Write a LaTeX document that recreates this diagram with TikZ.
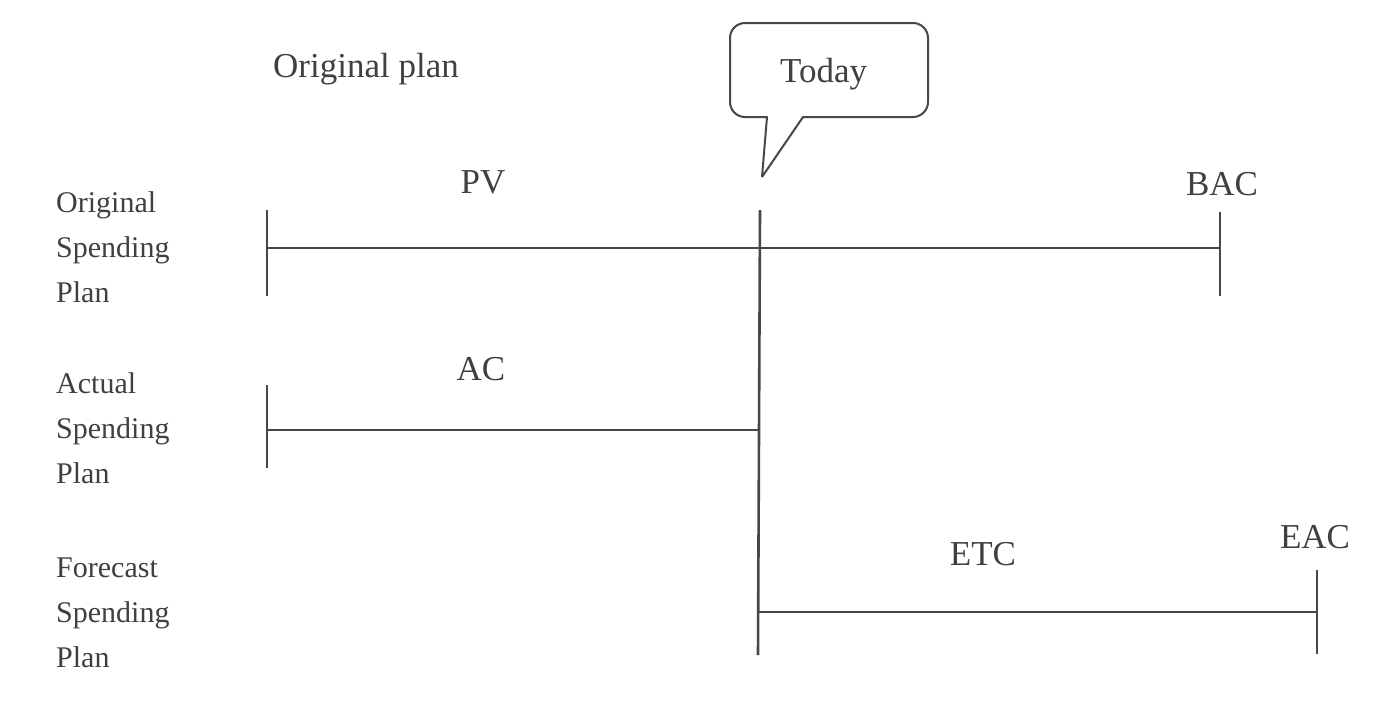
\documentclass[tikz,border=0pt]{standalone}
\usepackage{fontspec}
\setmainfont{Liberation Serif}
\begin{document}
\begin{tikzpicture}[x=1pt,y=-1pt,
  ink/.style={draw=black!72, line width=2.6pt},
  lbl/.style={text=black!75, font=\fontsize{35}{40}\selectfont, inner sep=0pt},
  side/.style={text=black!75, font=\fontsize{30}{45}\selectfont, inner sep=0pt, align=left, anchor=base west}]
\useasboundingbox[fill=white] (0,0) rectangle (1391,710);
% labels
\node[lbl, anchor=base west] (oplan) at (273,77) {Original plan};
\node[lbl, anchor=base west] (today) at (780,82) {Today};
\node[lbl, anchor=base] (pv) at (483,193) {PV};
\node[lbl, anchor=base] (bac) at (1222,195) {BAC};
\node[lbl, anchor=base] (ac) at (481,380) {AC};
\node[lbl, anchor=base] (etc) at (983,565) {ETC};
\node[lbl, anchor=base] (eac) at (1315,548) {EAC};
\node[side] (osp) at (56,302) {Original\\Spending\\Plan};
\node[side] (asp) at (56,483) {Actual\\Spending\\Plan};
\node[side] (fsp) at (56,667) {Forecast\\Spending\\Plan};
% callout
\coordinate (tip) at (762,177);
\draw[ink, line width=2pt, line join=round]
  (tip) -- (767,117) -- (745,117) arc[start angle=90, end angle=180, radius=15]
  -- (730,38) arc[start angle=180, end angle=270, radius=15]
  -- (913,23) arc[start angle=270, end angle=360, radius=15]
  -- (928,102) arc[start angle=0, end angle=90, radius=15]
  -- (803,117) -- (tip);
% original plan line
\coordinate (o1t) at (267,210); \coordinate (o1b) at (267,296);
\coordinate (o1m) at (267,248);
\coordinate (o2t) at (1220,212); \coordinate (o2b) at (1220,296);
\coordinate (o2m) at (1220,248);
\draw[ink] (o1t) -- (o1b);
\draw[ink] (o2t) -- (o2b);
\draw[ink] (o1m) -- (o2m);
% today line
\coordinate (tt) at (760,210); \coordinate (tb) at (758,655);
\draw[ink] (tt) -- (tb);
% actual line
\coordinate (a1t) at (267,385); \coordinate (a1b) at (267,468);
\coordinate (a1m) at (267,430); \coordinate (a2m) at (759,430);
\draw[ink] (a1t) -- (a1b);
\draw[ink] (a1m) -- (a2m);
% forecast line
\coordinate (f1m) at (758,612); \coordinate (f2m) at (1317,612);
\coordinate (f2t) at (1317,570); \coordinate (f2b) at (1317,654);
\draw[ink] (f1m) -- (f2m);
\draw[ink] (f2t) -- (f2b);
\end{tikzpicture}
\end{document}
